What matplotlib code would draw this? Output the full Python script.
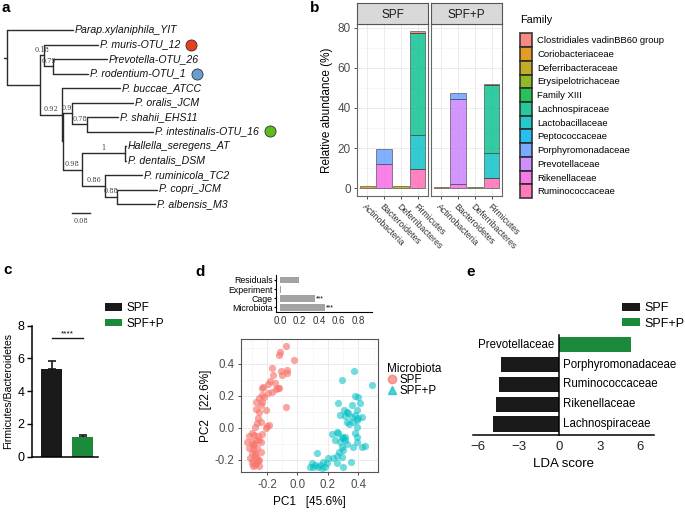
import numpy as np
import matplotlib.pyplot as plt
from matplotlib.patches import Patch
from matplotlib.lines import Line2D

plt.rcParams['font.family'] = ['Liberation Sans', 'DejaVu Sans']

W, H = 685, 514
fig = plt.figure(figsize=(W / 100, H / 100), dpi=100)


def box(x0, y0, x1, y1):
    # pixel box (top-left origin) -> figure fraction
    return [x0 / W, 1 - y1 / H, (x1 - x0) / W, (y1 - y0) / H]


def panel_label(x, y, s):
    fig.text(x / W, 1 - y / H, s, fontsize=11, weight='bold', va='center')


# ---------------- data ----------------

# a: phylogeny (name / support, branch length, children)
tree = ("", 0.013, [
    ("Parap.xylaniphila_YIT", 0.293, []),
    ("", 0.147, [
        ("0.18", 0.018, [
            ("P. muris-OTU_12", 0.240, []),
            ("0.79", 0.040, [
                ("Prevotella-OTU_26", 0.240, []),
                ("P. rodentium-OTU_1", 0.156, []),
            ]),
        ]),
        ("0.92", 0.098, [
            ("P. buccae_ATCC", 0.258, []),
            ("", 0.002, [
                ("0.9", 0.042, [
                    ("P. oralis_JCM", 0.271, []),
                    ("0.78", 0.067, [
                        ("P. shahii_EHS11", 0.138, []),
                        ("P. intestinalis-OTU_16", 0.293, []),
                    ]),
                ]),
                ("0.98", 0.087, [
                    ("1", 0.191, [
                        ("Hallella_seregens_AT", 0.004, []),
                        ("P. dentalis_DSM", 0.004, []),
                    ]),
                    ("0.86", 0.102, [
                        ("P. ruminicola_TC2", 0.164, []),
                        ("0.88", 0.053, [
                            ("P. copri_JCM", 0.178, []),
                            ("P. albensis_M3", 0.169, []),
                        ]),
                    ]),
                ]),
            ]),
        ]),
    ]),
])
otu_marks = {"P. muris-OTU_12": "#E8401C",
             "P. rodentium-OTU_1": "#6C9BD2",
             "P. intestinalis-OTU_16": "#5DBB1A"}
scale_len = 0.08

# b: relative abundance per family, phyla order
phyla = ["Actinobacteria", "Bacteroidetes", "Deferribacteres", "Firmicutes"]
families = ["Clostridiales vadinBB60 group", "Coriobacteriaceae", "Deferribacteraceae",
            "Erysipelotrichaceae", "Family XIII", "Lachnospiraceae", "Lactobacillaceae",
            "Peptococcaceae", "Porphyromonadaceae", "Prevotellaceae", "Rikenellaceae",
            "Ruminococcaceae"]
family_colors = ["#F8766D", "#DE8C00", "#B79F00", "#7CAE00", "#00BA38", "#00C08B",
                 "#00BFC4", "#00B4F0", "#619CFF", "#C77CFF", "#F564E3", "#FF64B0"]
abund_spf = [
    [0, 0, 0, 0.6],
    [1.3, 0, 0, 0],
    [0, 0, 1.0, 0],
    [0, 0, 0, 0.2],
    [0, 0, 0, 0.2],
    [0, 0, 0, 50.6],
    [0, 0, 0, 17.0],
    [0, 0, 0, 0.2],
    [0, 7.4, 0, 0],
    [0, 0, 0, 0],
    [0, 11.9, 0, 0],
    [0, 0, 0, 9.4],
]
abund_spfp = [
    [0, 0, 0, 0.6],
    [0.6, 0, 0, 0],
    [0, 0, 0.6, 0],
    [0, 0, 0, 0.1],
    [0, 0, 0, 0.1],
    [0, 0, 0, 34.0],
    [0, 0, 0, 12.4],
    [0, 0, 0, 0.1],
    [0, 3.0, 0, 0],
    [0, 42.5, 0, 0],
    [0, 1.9, 0, 0],
    [0, 0, 0, 4.9],
]

# c: Firmicutes/Bacteroidetes
groups = ["SPF", "SPF+P"]
group_colors = ["#1A1A1A", "#1B8A3A"]
fb_ratio = [5.33, 1.18]
fb_sem = [0.50, 0.14]

# d: adonis R2 and PCoA
terms = ["Microbiota", "Cage", "Experiment", "Residuals"]
r2 = [0.458, 0.355, 0.004, 0.19]
r2_sig = ["***", "***", "", ""]

spf_pc1 = [-0.075, -0.115, -0.12, -0.025, -0.165, -0.11, -0.07, -0.07, -0.10, -0.16,
           -0.18, -0.195, -0.13, -0.14, -0.12, -0.225, -0.23, -0.165, -0.235, -0.19,
           -0.27, -0.23, -0.24, -0.205, -0.27, -0.25, -0.075, -0.185, -0.26, -0.265,
           -0.24, -0.275, -0.30, -0.32, -0.285, -0.26, -0.33, -0.30, -0.285, -0.255,
           -0.24, -0.315, -0.29, -0.265, -0.30, -0.28, -0.31, -0.29, -0.265, -0.30,
           -0.27, -0.25, -0.29, -0.24, -0.27, -0.23, -0.20, -0.28, -0.26, -0.275,
           -0.255, -0.29, -0.22, -0.25, -0.15, -0.205]
spf_pc2 = [0.51, 0.475, 0.455, 0.42, 0.37, 0.355, 0.36, 0.34, 0.33, 0.33,
           0.29, 0.275, 0.25, 0.24, 0.245, 0.255, 0.245, 0.22, 0.205, 0.215,
           0.16, 0.16, 0.14, 0.11, 0.115, 0.10, 0.13, 0.015, 0.06, 0.03,
           0.035, 0.005, -0.035, -0.05, -0.045, -0.055, -0.09, -0.09, -0.10, -0.08,
           -0.09, -0.13, -0.13, -0.13, -0.16, -0.16, -0.19, -0.20, -0.19, -0.22,
           -0.22, -0.24, -0.24, -0.155, -0.08, -0.04, 0.01, -0.17, -0.21, -0.235,
           -0.205, -0.11, 0.19, 0.185, 0.28, -0.005]
spfp_pc1 = [0.29, 0.37, 0.486, 0.377, 0.40, 0.267, 0.41, 0.36, 0.305, 0.322,
            0.333, 0.311, 0.388, 0.355, 0.377, 0.40, 0.42, 0.322, 0.365, 0.388,
            0.388, 0.377, 0.224, 0.257, 0.268, 0.29, 0.30, 0.388, 0.392, 0.246,
            0.279, 0.311, 0.322, 0.29, 0.30, 0.274, 0.366, 0.42, 0.443, 0.257,
            0.29, 0.35, 0.235, 0.202, 0.126, 0.169, 0.196, 0.093, 0.115, 0.148,
            0.18, 0.082, 0.104, 0.137, 0.163, 0.296, 0.257, 0.34, 0.31, 0.28]
spfp_pc2 = [0.298, 0.356, 0.267, 0.198, 0.19, 0.156, 0.156, 0.14, 0.11, 0.10,
            0.09, 0.073, 0.11, 0.069, 0.079, 0.058, 0.069, 0.037, 0.037, 0.048,
            0.006, -0.031, -0.042, -0.025, -0.035, -0.056, -0.067, -0.056, -0.0875, -0.077,
            -0.0875, -0.077, -0.102, -0.119, -0.14, -0.15, -0.119, -0.119, -0.115, -0.177,
            -0.185, -0.213, -0.19, -0.19, -0.16, -0.2125, -0.219, -0.223, -0.233, -0.233,
            -0.244, -0.244, -0.244, -0.248, -0.254, -0.244, -0.219, 0.02, -0.06, 0.08]

# e: LEfSe
lda_taxa = ["Lachnospiraceae", "Rikenellaceae", "Ruminococcaceae",
            "Porphyromonadaceae", "Prevotellaceae"]
lda_score = [-4.93, -4.71, -4.44, -4.34, 5.29]

# ---------------- a: tree ----------------
axa = fig.add_axes(box(4, 15.5, 304, 218.5))
axa.set_xlim(0, 300 / 225)
axa.set_ylim(13, -1)
axa.axis('off')

tips, segs, supports = [], [], []


def layout(node, x0):
    name, bl, kids = node
    x = x0 + bl
    if not kids:
        y = len(tips)
        tips.append((name, x, y))
    else:
        ys = [layout(k, x) for k in kids]
        y = (ys[0] + ys[-1]) / 2
        segs.append(([x, x], [ys[0], ys[-1]]))
        if name:
            supports.append((name, (x0 + x) / 2, y))
    segs.append(([x0, x], [y, y]))
    return y


layout(tree, 0.0)
for xs, ys in segs:
    axa.plot(xs, ys, color='#2b2b2b', lw=1.0, solid_capstyle='round')
for name, x, y in supports:
    axa.text(x, y - 0.12, name, fontsize=4.8, family='DejaVu Serif', color='#444444',
             ha='center', va='bottom')
tip_texts = {}
for name, x, y in tips:
    tip_texts[name] = axa.text(x + 0.008, y, name, fontsize=7.6, style='italic',
                               ha='left', va='center', color='#111111')

sx0 = 0.302
axa.plot([sx0, sx0 + scale_len], [12.62, 12.62], color='#2b2b2b', lw=1.0, clip_on=False)
axa.text(sx0 + scale_len / 2, 13.2, f"{scale_len:.2f}", fontsize=4.8,
         family='DejaVu Serif', color='#444444', ha='center', va='center')

fig.canvas.draw()
inv = axa.transData.inverted()
for name, col in otu_marks.items():
    bb = tip_texts[name].get_window_extent()
    mx, my = inv.transform((bb.x1 + 11, (bb.y0 + bb.y1) / 2))
    axa.plot(mx, my, 'o', ms=8, mfc=col, mec='#333333', mew=0.6, clip_on=False)

# ---------------- b: stacked bars ----------------
xpos = np.arange(len(phyla))
for i, (abund, title, x0, x1) in enumerate([(abund_spf, "SPF", 357, 428),
                                            (abund_spfp, "SPF+P", 431, 502)]):
    ax = fig.add_axes(box(x0, 24, x1, 196))
    bottom = np.zeros(len(phyla))
    for fam_vals, col in zip(abund[::-1], family_colors[::-1]):
        vals = np.array(fam_vals, dtype=float)
        m = vals > 0
        ax.bar(xpos[m], vals[m], bottom=bottom[m], width=0.9, color=col, alpha=0.8,
               edgecolor='#3a3a3a', linewidth=0.5, zorder=3)
        bottom += vals
    ax.set_xlim(-0.6, 3.6)
    ax.set_ylim(-3.9, 81.9)
    ax.set_yticks([0, 20, 40, 60, 80])
    ax.set_yticks([10, 30, 50, 70], minor=True)
    ax.set_xticks(xpos)
    ax.set_xticklabels(phyla, rotation=-45, ha='left', va='top', rotation_mode='anchor',
                       fontsize=6.3, color='#333333')
    ax.grid(True, which='major', color='#EBEBEB', lw=0.7, zorder=0)
    ax.grid(True, which='minor', axis='y', color='#F3F3F3', lw=0.5, zorder=0)
    ax.tick_params(which='minor', length=0)
    ax.tick_params(axis='both', length=2.5, width=0.6, color='#333333', pad=2)
    for s in ax.spines.values():
        s.set_color('#666666')
        s.set_linewidth(0.8)
    if i == 0:
        ax.tick_params(axis='y', labelsize=8.5, labelcolor='#4D4D4D')
        ax.set_ylabel("Relative abundance (%)", fontsize=8.5, labelpad=3)
    else:
        ax.tick_params(axis='y', length=0, labelleft=False)
    axs = fig.add_axes(box(x0, 3, x1, 24))
    axs.set_facecolor('#D9D9D9')
    axs.set_xticks([])
    axs.set_yticks([])
    for s in axs.spines.values():
        s.set_color('#555555')
        s.set_linewidth(0.8)
    axs.text(0.5, 0.45, title, ha='center', va='center', fontsize=8.5,
             color='#1A1A1A', transform=axs.transAxes)

fam_handles = [Patch(facecolor=c, edgecolor='#2a2a2a', linewidth=1.3, alpha=0.85)
               for c in family_colors]
fam_leg = fig.legend(fam_handles, families, loc='upper left',
                     bbox_to_anchor=(520 / W, 1 - 15 / H),
                     frameon=False, fontsize=6.8, title="Family", title_fontsize=7.8,
                     alignment='left', handlelength=1.3, handleheight=1.86,
                     labelspacing=0.0, handletextpad=0.5, borderpad=0, borderaxespad=0)
fam_leg._legend_box.sep = 6

# ---------------- c: F/B ratio ----------------
axc = fig.add_axes(box(32, 325.7, 98, 456.7))
gx = np.arange(len(groups))
axc.bar(gx, fb_ratio, width=0.68, color=group_colors, zorder=2)
axc.errorbar(gx, fb_ratio, yerr=[np.zeros(len(groups)), fb_sem], fmt='none',
             ecolor='#1A1A1A', elinewidth=1.2, capsize=3.2, capthick=1.2, zorder=1)
axc.set_xlim(-0.63, 1.5)
axc.set_ylim(0, 8)
axc.set_yticks([0, 2, 4, 6, 8])
axc.set_xticks([])
for s in ['top', 'right']:
    axc.spines[s].set_visible(False)
for s in ['left', 'bottom']:
    axc.spines[s].set_linewidth(1.1)
axc.tick_params(axis='y', labelsize=9, length=3.5, width=1.0, pad=2)
axc.set_ylabel("Firmicutes/Bacteroidetes", fontsize=7.6, labelpad=3)
axc.plot([0, 1], [7.22, 7.22], color='#1A1A1A', lw=1.0)
axc.text(0.5, 7.3, "****", ha='center', va='bottom', fontsize=6)
grp_handles = [Patch(facecolor=c) for c in group_colors]
fig.legend(grp_handles, groups, loc='upper left', bbox_to_anchor=(105 / W, 1 - 302 / H),
           frameon=False, fontsize=8.5, handlelength=1.4, handleheight=0.6,
           labelspacing=0.3, handletextpad=0.4, borderpad=0, borderaxespad=0)

# ---------------- d: adonis + PCoA ----------------
axd1 = fig.add_axes(box(276, 275, 372, 311.7))
tx = np.arange(len(terms))
axd1.barh(tx, r2, height=0.75, color='#A3A3A3')
for y, v, s in zip(tx, r2, r2_sig):
    if s:
        axd1.text(v + 0.01, y - 0.05, s, fontsize=5, va='center', ha='left')
axd1.set_xlim(-0.045, 0.945)
axd1.set_ylim(-0.46, 3.54)
axd1.set_yticks(tx)
axd1.set_yticklabels(terms, fontsize=6.3)
axd1.set_xticks([0, 0.2, 0.4, 0.6, 0.8])
axd1.set_xticklabels([f"{v:.1f}" for v in [0, 0.2, 0.4, 0.6, 0.8]], fontsize=7,
                     color='#333333')
axd1.tick_params(axis='y', length=1.5, pad=1)
axd1.tick_params(axis='x', length=0, pad=3)
for s in ['top', 'right']:
    axd1.spines[s].set_visible(False)

axd2 = fig.add_axes(box(240.7, 339.3, 378.3, 472.3))
axd2.scatter(spf_pc1, spf_pc2, s=27, color='#F8766D', alpha=0.65, lw=0, zorder=3)
axd2.scatter(spfp_pc1, spfp_pc2, s=27, color='#00BFC4', alpha=0.55, lw=0, zorder=3)
axd2.set_xlim(-0.372, 0.530)
axd2.set_ylim(-0.279, 0.5525)
pticks = [-0.2, 0.0, 0.2, 0.4]
axd2.set_xticks(pticks)
axd2.set_xticklabels([f"{v:.1f}" for v in pticks])
axd2.set_yticks(pticks)
axd2.set_yticklabels([f"{v:.1f}" for v in pticks])
axd2.set_xticks([-0.3, -0.1, 0.1, 0.3, 0.5], minor=True)
axd2.set_yticks([-0.1, 0.1, 0.3, 0.5], minor=True)
axd2.grid(True, which='major', color='#EBEBEB', lw=0.7, zorder=0)
axd2.grid(True, which='minor', color='#F4F4F4', lw=0.5, zorder=0)
axd2.tick_params(which='minor', length=0)
axd2.tick_params(axis='both', labelsize=8.3, labelcolor='#4D4D4D', length=2.5,
                 width=0.6, color='#333333', pad=2)
for s in axd2.spines.values():
    s.set_color('#555555')
    s.set_linewidth(0.8)
axd2.set_xlabel("PC1   [45.6%]", fontsize=8.5, labelpad=4)
axd2.set_ylabel("PC2   [22.6%]", fontsize=8.5, labelpad=2)
pc_handles = [Line2D([], [], marker='o', ls='', ms=6, color='#F8766D', alpha=0.7),
              Line2D([], [], marker='^', ls='', ms=6, color='#00BFC4', alpha=0.7)]
fig.legend(pc_handles, groups, loc='upper left', bbox_to_anchor=(387 / W, 1 - 363 / H),
           frameon=False, fontsize=8.3, title="Microbiota", title_fontsize=8.5,
           alignment='left', handlelength=0.8, labelspacing=-0.1, handletextpad=0.3,
           borderpad=0, borderaxespad=0)

# ---------------- e: LDA ----------------
axe = fig.add_axes(box(473, 335, 654, 435))
ey = np.arange(len(lda_taxa))
axe.barh(ey, lda_score, height=0.76,
         color=[group_colors[1] if v > 0 else group_colors[0] for v in lda_score])
for y, v, name in zip(ey, lda_score, lda_taxa):
    if v < 0:
        axe.text(0.25, y, name, fontsize=8.3, ha='left', va='center')
    else:
        axe.text(-0.4, y, name, fontsize=8.3, ha='right', va='center')
axe.set_xlim(-6.4, 7.0)
axe.set_ylim(-0.555, 4.49)
axe.spines['left'].set_position(('data', 0))
for s in ['top', 'right']:
    axe.spines[s].set_visible(False)
axe.spines['left'].set_linewidth(1.1)
axe.spines['bottom'].set_linewidth(1.1)
axe.set_yticks([])
axe.set_xticks([-6, -3, 0, 3, 6])
axe.tick_params(axis='x', labelsize=9.5, length=0, pad=4, labelcolor='#222222')
axe.set_xlabel("LDA score", fontsize=9.5, labelpad=4)
fig.legend(grp_handles, groups, loc='upper left', bbox_to_anchor=(622 / W, 1 - 302 / H),
           frameon=False, fontsize=9, handlelength=1.4, handleheight=0.6,
           labelspacing=0.3, handletextpad=0.4, borderpad=0, borderaxespad=0)

panel_label(2, 8, "a")
panel_label(310, 8, "b")
panel_label(3, 270, "c")
panel_label(195, 272, "d")
panel_label(466, 272, "e")

fig.savefig("out.png", dpi=100)
